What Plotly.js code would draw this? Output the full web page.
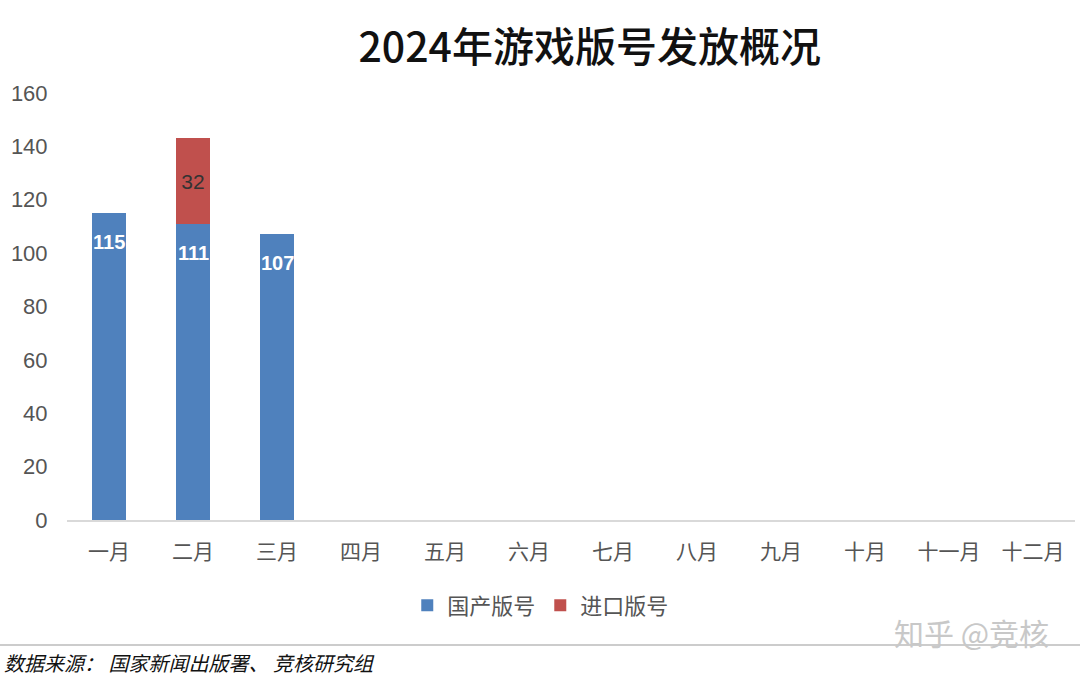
<!DOCTYPE html>
<html><head><meta charset="utf-8">
<script src="https://cdn.plot.ly/plotly-3.0.1.min.js"></script>
<style>html,body{margin:0;padding:0;background:#fff}#chart{width:1080px;height:678px}</style>
</head><body><div id="chart"></div>
<script>
const months = ["一月","二月","三月","四月","五月","六月","七月","八月","九月","十月","十一月","十二月"];
const domestic = [115, 111, 107, null, null, null, null, null, null, null, null, null];
const imported = [null, 32, null, null, null, null, null, null, null, null, null, null];
const yTicks = [0, 20, 40, 60, 80, 100, 120, 140, 160];

const FONT = "Liberation Sans, Arial, 'Noto Sans CJK SC', sans-serif";
const CJK = "'Noto Sans CJK SC', Liberation Sans, sans-serif";

const traces = [
  {type:"bar", name:"国产版号", x:months, y:domestic, marker:{color:"#4F81BD"}, hoverinfo:"x+y"},
  {type:"bar", name:"进口版号", x:months, y:imported, marker:{color:"#C0504D"},
   text: imported.map(v => v == null ? "" : String(v)), textposition:"inside", insidetextanchor:"middle",
   textfont:{family:FONT, size:21, color:"#333"}, hoverinfo:"x+y"}
];

const annotations = [];
domestic.forEach((v, i) => {
  if (v == null) return;
  annotations.push({x: months[i], y: v, xref:"x", yref:"y", text: "<b>" + v + "</b>", showarrow:false,
    yanchor:"top", yshift:-16, font:{family:FONT, size:20, color:"#fff"}});
});
annotations.push({xref:"paper", yref:"paper", x:-0.064, y:-0.333, xanchor:"left", yanchor:"middle",
  text:"<i>数据来源： 国家新闻出版署、 竞核研究组</i>", showarrow:false, font:{family:CJK, size:20, color:"#111"}});
annotations.push({xref:"paper", yref:"paper", x:0.976, y:-0.263, xanchor:"right", yanchor:"middle",
  text:"知乎 @竞核", showarrow:false, font:{family:CJK, size:30, color:"#c8c8c8"}});

const layout = {
  width:1080, height:678,
  margin:{l:67, r:5, t:93, b:158},
  paper_bgcolor:"#fff", plot_bgcolor:"#fff",
  barmode:"stack", bargap:0.59,
  title:{text:"2024年游戏版号发放概况", x:0.546, xanchor:"center", y:0.93, yanchor:"middle",
    font:{family:CJK, size:41, color:"#111", weight:500}},
  xaxis:{showgrid:false, showline:true, linecolor:"#d9d9d9", linewidth:1.5, ticks:"outside", ticklen:12,
    tickcolor:"rgba(0,0,0,0)", tickfont:{family:CJK, size:21, color:"#555"}, fixedrange:true},
  yaxis:{range:[0,160], tickvals:yTicks, showgrid:false, zeroline:false, showline:false, ticks:"outside",
    ticklen:14, tickcolor:"rgba(0,0,0,0)", tickfont:{family:FONT, size:22, color:"#555"}, fixedrange:true},
  legend:{orientation:"h", traceorder:"normal", x:0.47, xanchor:"center", y:-0.2, yanchor:"middle",
    font:{family:CJK, size:22, color:"#555"}, itemwidth:30, tracegroupgap:0},
  showlegend:true,
  annotations: annotations,
  shapes:[{type:"line", xref:"paper", yref:"paper", x0:-0.07, x1:1.01, y0:-0.293, y1:-0.293,
    line:{color:"#bbb", width:1.5}}]
};
Plotly.newPlot("chart", traces, layout, {displayModeBar:false, staticPlot:true});
</script></body></html>
